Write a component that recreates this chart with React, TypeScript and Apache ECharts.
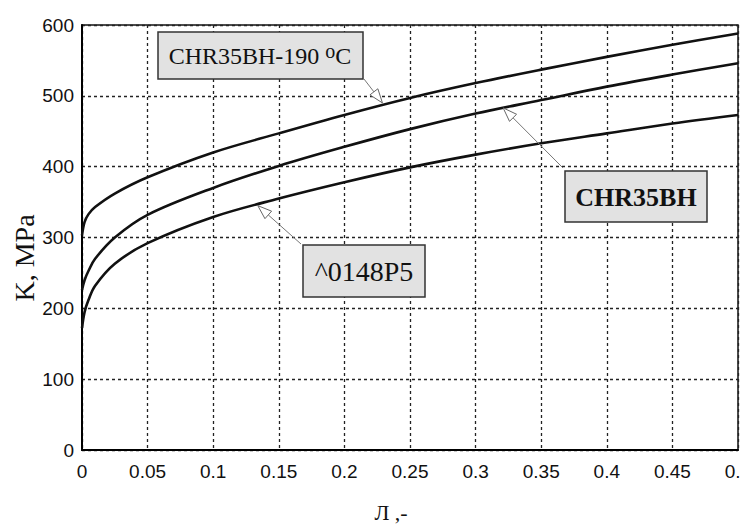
import React, { useEffect, useRef } from "react";
import * as echarts from "echarts";

const strain = [0, 0.002, 0.005, 0.01, 0.025, 0.05, 0.1, 0.15, 0.2, 0.25, 0.3, 0.35, 0.4, 0.45, 0.5];
const kHot = [303, 322, 333, 343, 362, 385, 420, 447, 473, 497, 518, 537, 555, 572, 588];
const kMid = [226, 240, 253, 270, 300, 332, 370, 401, 428, 453, 475, 494, 513, 530, 546];
const kLow = [172, 195, 212, 232, 263, 292, 329, 355, 378, 399, 417, 433, 447, 461, 473];

const seriesNames = ["CHR35BH-190 °C", "CHR35BH", "^0148P5"];
const seriesValues = [kHot, kMid, kLow];

// arrow tips in data coordinates (on curves)
const arrowTips = [
  [0.229, 490],
  [0.321, 483],
  [0.134, 345],
];

const SERIF = "'Liberation Serif', 'Times New Roman', serif";
const SANS = "'Liberation Sans', Arial, sans-serif";

export default function App() {
  const ref = useRef<HTMLDivElement>(null);
  useEffect(() => {
    document.body.style.margin = "0";
    const chart = echarts.init(ref.current!, null, { renderer: "svg" });
    const option: any = {
      animation: false,
      backgroundColor: "#fff",
      grid: {
        left: 82,
        right: 3,
        top: 25,
        bottom: 74,
        containLabel: false,
        outerBoundsMode: "none",
        show: true,
        borderColor: "#111",
        borderWidth: 1.5,
      },
      xAxis: {
        type: "value",
        min: 0,
        max: 0.5,
        interval: 0.05,
        axisLine: { show: true, lineStyle: { color: "#000", width: 2 } },
        axisTick: { show: false },
        axisLabel: {
          color: "#111",
          fontFamily: SANS,
          fontSize: 19,
          margin: 12,
          hideOverlap: false,
          formatter: (v: number) => String(+v.toFixed(2)),
        },
        splitLine: { show: true, lineStyle: { color: "#222", type: [3, 3], width: 1.3 } },
      },
      yAxis: {
        type: "value",
        min: 0,
        max: 600,
        interval: 100,
        axisLine: { show: true, lineStyle: { color: "#000", width: 2 } },
        axisTick: { show: false },
        axisLabel: { color: "#111", fontFamily: SANS, fontSize: 19, margin: 8 },
        splitLine: { show: true, lineStyle: { color: "#222", type: [3, 3], width: 1.3 } },
      },
      series: seriesValues.map((vals, i) => ({
        name: seriesNames[i],
        type: "line",
        data: strain.map((s, j) => [s, vals[j]]),
        showSymbol: false,
        smooth: 0.35,
        lineStyle: { color: "#111", width: 2.6 },
      })),
    };
    chart.setOption(option);

    const starts = [
      [364, 79],
      [563, 168],
      [301, 244],
    ];
    const arrows: any[] = [];
    arrowTips.forEach((tip, i) => {
      const p = chart.convertToPixel({ xAxisIndex: 0, yAxisIndex: 0 }, tip) as number[];
      const [sx, sy] = starts[i];
      const dx = p[0] - sx;
      const dy = p[1] - sy;
      const len = Math.hypot(dx, dy);
      const ux = dx / len;
      const uy = dy / len;
      const hl = 14;
      const hw = 5;
      const bx = p[0] - ux * hl;
      const by = p[1] - uy * hl;
      arrows.push({
        type: "line",
        z: 10,
        shape: { x1: sx, y1: sy, x2: bx, y2: by },
        style: { stroke: "#777", lineWidth: 1 },
      });
      arrows.push({
        type: "polygon",
        z: 10,
        shape: {
          points: [
            [p[0], p[1]],
            [bx - uy * hw, by + ux * hw],
            [bx + uy * hw, by - ux * hw],
          ],
        },
        style: { fill: "#fff", stroke: "#666", lineWidth: 1 },
      });
    });

    const box = (x: number, y: number, w: number, h: number, textEl: any) => ({
      type: "group",
      x,
      y,
      z: 20,
      children: [
        {
          type: "rect",
          shape: { x: 0, y: 0, width: w, height: h },
          style: { fill: "#e2e2e2", stroke: "#333", lineWidth: 1.5 },
        },
        textEl,
      ],
    });

    chart.setOption({
      graphic: [
        ...arrows,
        box(158, 32, 205, 47, {
          type: "text",
          x: 102,
          y: 24,
          style: {
            text: "CHR35BH-190 {sup|o}C",
            rich: {
              sup: { fontFamily: SERIF, fontSize: 20, fill: "#111", verticalAlign: "top", padding: [0, 0, 10, 0] },
            },
            fontFamily: SERIF,
            fontSize: 24,
            fill: "#111",
            align: "center",
            verticalAlign: "middle",
          },
        }),
        box(565, 171, 142, 51, {
          type: "text",
          x: 71,
          y: 26,
          style: {
            text: "CHR35BH",
            fontFamily: SERIF,
            fontSize: 26,
            fontWeight: "bold",
            fill: "#111",
            align: "center",
            verticalAlign: "middle",
          },
        }),
        box(303, 245, 122, 52, {
          type: "text",
          x: 61,
          y: 26,
          style: {
            text: "^0148P5",
            fontFamily: SERIF,
            fontSize: 28,
            fill: "#111",
            align: "center",
            verticalAlign: "middle",
          },
        }),
        {
          type: "text",
          x: 24,
          y: 258,
          rotation: Math.PI / 2,
          style: {
            text: "K, MPa",
            fontFamily: SERIF,
            fontSize: 28,
            fill: "#111",
            align: "center",
            verticalAlign: "middle",
          },
        },
        {
          type: "text",
          x: 391,
          y: 512,
          style: {
            text: "Л ,-",
            fontFamily: SERIF,
            fontSize: 22,
            fill: "#111",
            align: "center",
            verticalAlign: "middle",
          },
        },
      ],
    });

    return () => chart.dispose();
  }, []);
  return <div ref={ref} style={{ width: 741, height: 524 }} />;
}
